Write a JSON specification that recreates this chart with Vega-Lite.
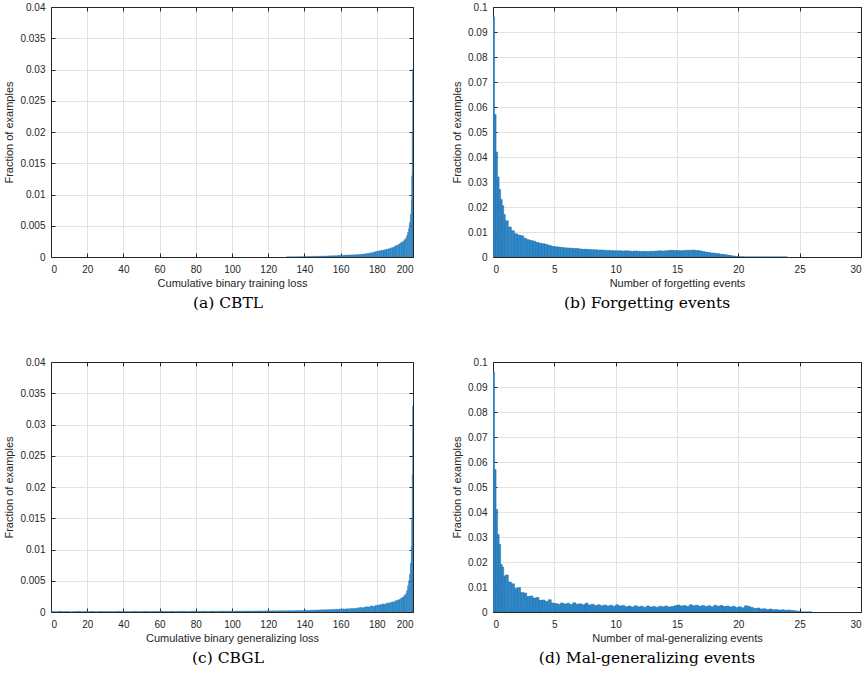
{
  "$schema": "https://vega.github.io/schema/vega-lite/v6.json",
  "padding": {"left": 3, "top": 2, "right": 2, "bottom": 2},
  "bounds": "flush",
  "columns": 2,
  "spacing": {"row": 105, "column": 80},
  "config": {
    "view": {"stroke": null},
    "font": "Liberation Sans",
    "axis": {
      "domainColor": "#262626", "domainWidth": 1,
      "tickColor": "#262626", "tickWidth": 1,
      "labelColor": "#262626", "labelFont": "Liberation Sans", "labelFontSize": 10,
      "titleFont": "Liberation Sans", "titleFontSize": 11, "titleFontWeight": "normal", "titleColor": "#262626",
      "gridColor": "#e2e2e2", "gridWidth": 1
    },
    "title": {"font": "DejaVu Serif", "fontSize": 15.5, "fontWeight": "normal", "color": "#000000"}
  },
  "datasets": {
    "a": [
      {"x0":130,"x1":131,"y":0.00003},{"x0":131,"x1":132,"y":0.00003},{"x0":132,"x1":133,"y":0.00004},{"x0":133,"x1":134,"y":0.00003},{"x0":134,"x1":135,"y":0.00004},
      {"x0":135,"x1":136,"y":0.00004},{"x0":136,"x1":137,"y":0.00005},{"x0":137,"x1":138,"y":0.00005},{"x0":138,"x1":139,"y":0.00006},{"x0":139,"x1":140,"y":0.00006},
      {"x0":140,"x1":141,"y":0.00007},{"x0":141,"x1":142,"y":0.00008},{"x0":142,"x1":143,"y":0.00008},{"x0":143,"x1":144,"y":0.00009},{"x0":144,"x1":145,"y":0.0001},
      {"x0":145,"x1":146,"y":0.0001},{"x0":146,"x1":147,"y":0.00011},{"x0":147,"x1":148,"y":0.00012},{"x0":148,"x1":149,"y":0.00013},{"x0":149,"x1":150,"y":0.00014},
      {"x0":150,"x1":151,"y":0.00015},{"x0":151,"x1":152,"y":0.00016},{"x0":152,"x1":153,"y":0.00017},{"x0":153,"x1":154,"y":0.00018},{"x0":154,"x1":155,"y":0.00019},
      {"x0":155,"x1":156,"y":0.0002},{"x0":156,"x1":157,"y":0.00021},{"x0":157,"x1":158,"y":0.00022},{"x0":158,"x1":159,"y":0.00024},{"x0":159,"x1":160,"y":0.00025},
      {"x0":160,"x1":161,"y":0.00027},{"x0":161,"x1":162,"y":0.00028},{"x0":162,"x1":163,"y":0.0003},{"x0":163,"x1":164,"y":0.00031},{"x0":164,"x1":165,"y":0.00032},
      {"x0":165,"x1":166,"y":0.00034},{"x0":166,"x1":167,"y":0.00035},{"x0":167,"x1":168,"y":0.00037},{"x0":168,"x1":169,"y":0.00038},{"x0":169,"x1":170,"y":0.0004},
      {"x0":170,"x1":171,"y":0.00042},{"x0":171,"x1":172,"y":0.00045},{"x0":172,"x1":173,"y":0.00048},{"x0":173,"x1":174,"y":0.0005},{"x0":174,"x1":175,"y":0.00055},
      {"x0":175,"x1":176,"y":0.0006},{"x0":176,"x1":177,"y":0.00065},{"x0":177,"x1":178,"y":0.0007},{"x0":178,"x1":179,"y":0.00078},{"x0":179,"x1":180,"y":0.00085},
      {"x0":180,"x1":181,"y":0.00095},{"x0":181,"x1":182,"y":0.001},{"x0":182,"x1":183,"y":0.00105},{"x0":183,"x1":184,"y":0.0011},{"x0":184,"x1":185,"y":0.00118},
      {"x0":185,"x1":186,"y":0.00125},{"x0":186,"x1":187,"y":0.0013},{"x0":187,"x1":188,"y":0.0014},{"x0":188,"x1":189,"y":0.0015},{"x0":189,"x1":190,"y":0.0016},
      {"x0":190,"x1":191,"y":0.0018},{"x0":191,"x1":192,"y":0.0019},{"x0":192,"x1":193,"y":0.0021},{"x0":193,"x1":194,"y":0.0023},{"x0":194,"x1":195,"y":0.0025},
      {"x0":195,"x1":196,"y":0.0028},
      {"x0":196,"x1":196.5,"y":0.0031},{"x0":196.5,"x1":197,"y":0.0035},{"x0":197,"x1":197.5,"y":0.004},{"x0":197.5,"x1":198,"y":0.0046},
      {"x0":198,"x1":198.5,"y":0.0055},{"x0":198.5,"x1":199,"y":0.0068},
      {"x0":199,"x1":199.25,"y":0.009},{"x0":199.25,"x1":199.5,"y":0.013},{"x0":199.5,"x1":199.75,"y":0.02},{"x0":199.75,"x1":200,"y":0.03}
    ],
    "b": [
      {"x0":0,"x1":0.125,"y":0.096},{"x0":0.125,"x1":0.25,"y":0.057},{"x0":0.25,"x1":0.375,"y":0.042},{"x0":0.375,"x1":0.5,"y":0.032},
      {"x0":0.5,"x1":0.625,"y":0.027},{"x0":0.625,"x1":0.75,"y":0.023},{"x0":0.75,"x1":0.875,"y":0.0205},{"x0":0.875,"x1":1,"y":0.017},
      {"x0":1,"x1":1.25,"y":0.0145},{"x0":1.25,"x1":1.5,"y":0.012},{"x0":1.5,"x1":1.75,"y":0.0105},{"x0":1.75,"x1":2,"y":0.0093},
      {"x0":2,"x1":2.25,"y":0.0088},{"x0":2.25,"x1":2.5,"y":0.0085},{"x0":2.5,"x1":2.75,"y":0.0075},{"x0":2.75,"x1":3,"y":0.0069},
      {"x0":3,"x1":3.25,"y":0.0066},{"x0":3.25,"x1":3.5,"y":0.0063},{"x0":3.5,"x1":3.75,"y":0.0058},{"x0":3.75,"x1":4,"y":0.0055},
      {"x0":4,"x1":4.25,"y":0.0053},{"x0":4.25,"x1":4.5,"y":0.005},{"x0":4.5,"x1":4.75,"y":0.0046},{"x0":4.75,"x1":5,"y":0.0043},
      {"x0":5,"x1":5.25,"y":0.0041},{"x0":5.25,"x1":5.5,"y":0.004},{"x0":5.5,"x1":5.75,"y":0.0038},{"x0":5.75,"x1":6,"y":0.0037},
      {"x0":6,"x1":6.25,"y":0.0036},{"x0":6.25,"x1":6.5,"y":0.0035},{"x0":6.5,"x1":6.75,"y":0.0034},{"x0":6.75,"x1":7,"y":0.0034},
      {"x0":7,"x1":7.25,"y":0.0032},{"x0":7.25,"x1":7.5,"y":0.0031},{"x0":7.5,"x1":7.75,"y":0.0031},{"x0":7.75,"x1":8,"y":0.003},
      {"x0":8,"x1":8.25,"y":0.0029},{"x0":8.25,"x1":8.5,"y":0.0029},{"x0":8.5,"x1":8.75,"y":0.0028},{"x0":8.75,"x1":9,"y":0.0028},
      {"x0":9,"x1":9.25,"y":0.0027},{"x0":9.25,"x1":9.5,"y":0.0026},{"x0":9.5,"x1":9.75,"y":0.0026},{"x0":9.75,"x1":10,"y":0.0025},
      {"x0":10,"x1":10.25,"y":0.0025},{"x0":10.25,"x1":10.5,"y":0.0025},{"x0":10.5,"x1":10.75,"y":0.0024},{"x0":10.75,"x1":11,"y":0.0025},
      {"x0":11,"x1":11.25,"y":0.0024},{"x0":11.25,"x1":11.5,"y":0.0023},{"x0":11.5,"x1":11.75,"y":0.0024},{"x0":11.75,"x1":12,"y":0.0023},
      {"x0":12,"x1":12.25,"y":0.0022},{"x0":12.25,"x1":12.5,"y":0.0023},{"x0":12.5,"x1":12.75,"y":0.0022},{"x0":12.75,"x1":13,"y":0.0023},
      {"x0":13,"x1":13.25,"y":0.0023},{"x0":13.25,"x1":13.5,"y":0.0024},{"x0":13.5,"x1":13.75,"y":0.0025},{"x0":13.75,"x1":14,"y":0.0024},
      {"x0":14,"x1":14.25,"y":0.0025},{"x0":14.25,"x1":14.5,"y":0.0026},{"x0":14.5,"x1":14.75,"y":0.0027},{"x0":14.75,"x1":15,"y":0.0026},
      {"x0":15,"x1":15.25,"y":0.0026},{"x0":15.25,"x1":15.5,"y":0.0025},{"x0":15.5,"x1":15.75,"y":0.0026},{"x0":15.75,"x1":16,"y":0.0027},
      {"x0":16,"x1":16.25,"y":0.0027},{"x0":16.25,"x1":16.5,"y":0.0028},{"x0":16.5,"x1":16.75,"y":0.0026},{"x0":16.75,"x1":17,"y":0.0025},
      {"x0":17,"x1":17.25,"y":0.0022},{"x0":17.25,"x1":17.5,"y":0.002},{"x0":17.5,"x1":17.75,"y":0.0018},{"x0":17.75,"x1":18,"y":0.0016},
      {"x0":18,"x1":18.25,"y":0.0015},{"x0":18.25,"x1":18.5,"y":0.0013},{"x0":18.5,"x1":18.75,"y":0.0011},{"x0":18.75,"x1":19,"y":0.001},
      {"x0":19,"x1":19.25,"y":0.0008},{"x0":19.25,"x1":19.5,"y":0.0006},{"x0":19.5,"x1":19.75,"y":0.0004},{"x0":19.75,"x1":20,"y":0.0002},
      {"x0":20,"x1":20.5,"y":0.0001},{"x0":20.5,"x1":21,"y":0.00005},{"x0":21,"x1":22,"y":0.00003},{"x0":22,"x1":24,"y":0.00002}
    ],
    "c": [
      {"x0":0,"x1":2,"y":0.0001},{"x0":2,"x1":4,"y":0.00006},{"x0":4,"x1":6,"y":0.00012},{"x0":6,"x1":8,"y":0.00008},{"x0":8,"x1":10,"y":0.0001},
      {"x0":10,"x1":12,"y":0.00005},{"x0":12,"x1":14,"y":0.00009},{"x0":14,"x1":16,"y":0.00012},{"x0":16,"x1":18,"y":0.00007},{"x0":18,"x1":20,"y":0.0001},
      {"x0":20,"x1":22,"y":0.00008},{"x0":22,"x1":24,"y":0.00011},{"x0":24,"x1":26,"y":0.00006},{"x0":26,"x1":28,"y":0.0001},{"x0":28,"x1":30,"y":0.00009},
      {"x0":30,"x1":32,"y":0.00007},{"x0":32,"x1":34,"y":0.0001},{"x0":34,"x1":36,"y":0.00008},{"x0":36,"x1":38,"y":0.00012},{"x0":38,"x1":40,"y":0.00009},
      {"x0":40,"x1":42,"y":0.0001},{"x0":42,"x1":44,"y":0.00007},{"x0":44,"x1":46,"y":0.0001},{"x0":46,"x1":48,"y":0.00011},{"x0":48,"x1":50,"y":0.00008},
      {"x0":50,"x1":52,"y":0.0001},{"x0":52,"x1":54,"y":0.00012},{"x0":54,"x1":56,"y":0.00009},{"x0":56,"x1":58,"y":0.00011},{"x0":58,"x1":60,"y":0.0001},
      {"x0":60,"x1":62,"y":0.00013},{"x0":62,"x1":64,"y":0.0001},{"x0":64,"x1":66,"y":0.00009},{"x0":66,"x1":68,"y":0.00012},{"x0":68,"x1":70,"y":0.0001},
      {"x0":70,"x1":72,"y":0.00011},{"x0":72,"x1":74,"y":0.00013},{"x0":74,"x1":76,"y":0.0001},{"x0":76,"x1":78,"y":0.00012},{"x0":78,"x1":80,"y":0.00014},
      {"x0":80,"x1":82,"y":0.00011},{"x0":82,"x1":84,"y":0.00012},{"x0":84,"x1":86,"y":0.00013},{"x0":86,"x1":88,"y":0.0001},{"x0":88,"x1":90,"y":0.00014},
      {"x0":90,"x1":92,"y":0.00012},{"x0":92,"x1":94,"y":0.00013},{"x0":94,"x1":96,"y":0.00015},{"x0":96,"x1":98,"y":0.00012},{"x0":98,"x1":100,"y":0.00014},
      {"x0":100,"x1":102,"y":0.00013},{"x0":102,"x1":104,"y":0.00016},{"x0":104,"x1":106,"y":0.00014},{"x0":106,"x1":108,"y":0.00015},{"x0":108,"x1":110,"y":0.00017},
      {"x0":110,"x1":112,"y":0.00015},{"x0":112,"x1":114,"y":0.00016},{"x0":114,"x1":116,"y":0.00018},{"x0":116,"x1":118,"y":0.00016},{"x0":118,"x1":120,"y":0.00019},
      {"x0":120,"x1":122,"y":0.00018},{"x0":122,"x1":124,"y":0.0002},{"x0":124,"x1":126,"y":0.00019},{"x0":126,"x1":128,"y":0.00021},{"x0":128,"x1":130,"y":0.0002},
      {"x0":130,"x1":132,"y":0.00022},{"x0":132,"x1":134,"y":0.00021},{"x0":134,"x1":136,"y":0.00023},{"x0":136,"x1":138,"y":0.00024},{"x0":138,"x1":140,"y":0.00025},
      {"x0":140,"x1":141,"y":0.00026},{"x0":141,"x1":142,"y":0.00028},{"x0":142,"x1":143,"y":0.00025},{"x0":143,"x1":144,"y":0.0003},{"x0":144,"x1":145,"y":0.00029},
      {"x0":145,"x1":146,"y":0.00032},{"x0":146,"x1":147,"y":0.0003},{"x0":147,"x1":148,"y":0.00034},{"x0":148,"x1":149,"y":0.00033},{"x0":149,"x1":150,"y":0.00036},
      {"x0":150,"x1":151,"y":0.00035},{"x0":151,"x1":152,"y":0.00038},{"x0":152,"x1":153,"y":0.00036},{"x0":153,"x1":154,"y":0.0004},{"x0":154,"x1":155,"y":0.00039},
      {"x0":155,"x1":156,"y":0.00042},{"x0":156,"x1":157,"y":0.0004},{"x0":157,"x1":158,"y":0.00045},{"x0":158,"x1":159,"y":0.00043},{"x0":159,"x1":160,"y":0.00047},
      {"x0":160,"x1":161,"y":0.00046},{"x0":161,"x1":162,"y":0.0005},{"x0":162,"x1":163,"y":0.00048},{"x0":163,"x1":164,"y":0.00053},{"x0":164,"x1":165,"y":0.00051},
      {"x0":165,"x1":166,"y":0.00056},{"x0":166,"x1":167,"y":0.00055},{"x0":167,"x1":168,"y":0.0006},{"x0":168,"x1":169,"y":0.00058},{"x0":169,"x1":170,"y":0.00066},
      {"x0":170,"x1":171,"y":0.0007},{"x0":171,"x1":172,"y":0.00075},{"x0":172,"x1":173,"y":0.00068},{"x0":173,"x1":174,"y":0.0008},{"x0":174,"x1":175,"y":0.00085},
      {"x0":175,"x1":176,"y":0.0008},{"x0":176,"x1":177,"y":0.00092},{"x0":177,"x1":178,"y":0.00098},{"x0":178,"x1":179,"y":0.0009},{"x0":179,"x1":180,"y":0.00105},
      {"x0":180,"x1":181,"y":0.0011},{"x0":181,"x1":182,"y":0.00115},{"x0":182,"x1":183,"y":0.0012},{"x0":183,"x1":184,"y":0.0013},{"x0":184,"x1":185,"y":0.00125},
      {"x0":185,"x1":186,"y":0.0014},{"x0":186,"x1":187,"y":0.00145},{"x0":187,"x1":188,"y":0.0015},{"x0":188,"x1":189,"y":0.0016},{"x0":189,"x1":190,"y":0.00165},
      {"x0":190,"x1":191,"y":0.0018},{"x0":191,"x1":192,"y":0.0019},{"x0":192,"x1":193,"y":0.002},{"x0":193,"x1":194,"y":0.0022},{"x0":194,"x1":195,"y":0.0024},
      {"x0":195,"x1":196,"y":0.0027},
      {"x0":196,"x1":196.5,"y":0.003},{"x0":196.5,"x1":197,"y":0.0035},{"x0":197,"x1":197.5,"y":0.0042},{"x0":197.5,"x1":198,"y":0.005},
      {"x0":198,"x1":198.5,"y":0.006},{"x0":198.5,"x1":199,"y":0.0078},
      {"x0":199,"x1":199.25,"y":0.0105},{"x0":199.25,"x1":199.5,"y":0.015},{"x0":199.5,"x1":199.75,"y":0.022},{"x0":199.75,"x1":200,"y":0.033}
    ],
    "d": [
      {"x0":0,"x1":0.125,"y":0.096},{"x0":0.125,"x1":0.25,"y":0.057},{"x0":0.25,"x1":0.375,"y":0.041},{"x0":0.375,"x1":0.5,"y":0.031},
      {"x0":0.5,"x1":0.625,"y":0.027},{"x0":0.625,"x1":0.75,"y":0.019},{"x0":0.75,"x1":0.875,"y":0.018},{"x0":0.875,"x1":1,"y":0.0143},
      {"x0":1,"x1":1.25,"y":0.0148},{"x0":1.25,"x1":1.5,"y":0.012},{"x0":1.5,"x1":1.75,"y":0.0113},{"x0":1.75,"x1":2,"y":0.0095},
      {"x0":2,"x1":2.25,"y":0.0098},{"x0":2.25,"x1":2.5,"y":0.0078},{"x0":2.5,"x1":2.75,"y":0.0076},{"x0":2.75,"x1":3,"y":0.0062},
      {"x0":3,"x1":3.25,"y":0.0064},{"x0":3.25,"x1":3.5,"y":0.0056},{"x0":3.5,"x1":3.75,"y":0.0058},{"x0":3.75,"x1":4,"y":0.0047},
      {"x0":4,"x1":4.25,"y":0.0048},{"x0":4.25,"x1":4.5,"y":0.0042},{"x0":4.5,"x1":4.75,"y":0.0049},{"x0":4.75,"x1":5,"y":0.0036},
      {"x0":5,"x1":5.25,"y":0.0034},{"x0":5.25,"x1":5.5,"y":0.0031},{"x0":5.5,"x1":5.75,"y":0.0036},{"x0":5.75,"x1":6,"y":0.0032},
      {"x0":6,"x1":6.25,"y":0.0035},{"x0":6.25,"x1":6.5,"y":0.003},{"x0":6.5,"x1":6.75,"y":0.0037},{"x0":6.75,"x1":7,"y":0.0031},
      {"x0":7,"x1":7.25,"y":0.0033},{"x0":7.25,"x1":7.5,"y":0.0029},{"x0":7.5,"x1":7.75,"y":0.0035},{"x0":7.75,"x1":8,"y":0.0028},
      {"x0":8,"x1":8.25,"y":0.0031},{"x0":8.25,"x1":8.5,"y":0.0026},{"x0":8.5,"x1":8.75,"y":0.0029},{"x0":8.75,"x1":9,"y":0.0025},
      {"x0":9,"x1":9.25,"y":0.0028},{"x0":9.25,"x1":9.5,"y":0.0024},{"x0":9.5,"x1":9.75,"y":0.0027},{"x0":9.75,"x1":10,"y":0.0023},
      {"x0":10,"x1":10.25,"y":0.0029},{"x0":10.25,"x1":10.5,"y":0.0024},{"x0":10.5,"x1":10.75,"y":0.0026},{"x0":10.75,"x1":11,"y":0.0021},
      {"x0":11,"x1":11.25,"y":0.0024},{"x0":11.25,"x1":11.5,"y":0.002},{"x0":11.5,"x1":11.75,"y":0.0025},{"x0":11.75,"x1":12,"y":0.0021},
      {"x0":12,"x1":12.25,"y":0.0023},{"x0":12.25,"x1":12.5,"y":0.0019},{"x0":12.5,"x1":12.75,"y":0.0024},{"x0":12.75,"x1":13,"y":0.002},
      {"x0":13,"x1":13.25,"y":0.0022},{"x0":13.25,"x1":13.5,"y":0.0019},{"x0":13.5,"x1":13.75,"y":0.0023},{"x0":13.75,"x1":14,"y":0.0021},
      {"x0":14,"x1":14.25,"y":0.0024},{"x0":14.25,"x1":14.5,"y":0.002},{"x0":14.5,"x1":14.75,"y":0.0022},{"x0":14.75,"x1":15,"y":0.0025},
      {"x0":15,"x1":15.25,"y":0.0028},{"x0":15.25,"x1":15.5,"y":0.0024},{"x0":15.5,"x1":15.75,"y":0.0026},{"x0":15.75,"x1":16,"y":0.0022},
      {"x0":16,"x1":16.25,"y":0.0029},{"x0":16.25,"x1":16.5,"y":0.0025},{"x0":16.5,"x1":16.75,"y":0.0027},{"x0":16.75,"x1":17,"y":0.0023},
      {"x0":17,"x1":17.25,"y":0.0026},{"x0":17.25,"x1":17.5,"y":0.0022},{"x0":17.5,"x1":17.75,"y":0.0025},{"x0":17.75,"x1":18,"y":0.0021},
      {"x0":18,"x1":18.25,"y":0.0027},{"x0":18.25,"x1":18.5,"y":0.0023},{"x0":18.5,"x1":18.75,"y":0.0026},{"x0":18.75,"x1":19,"y":0.0022},
      {"x0":19,"x1":19.25,"y":0.0024},{"x0":19.25,"x1":19.5,"y":0.002},{"x0":19.5,"x1":19.75,"y":0.0023},{"x0":19.75,"x1":20,"y":0.0018},
      {"x0":20,"x1":20.25,"y":0.0021},{"x0":20.25,"x1":20.5,"y":0.0017},{"x0":20.5,"x1":20.75,"y":0.0025},{"x0":20.75,"x1":21,"y":0.0022},
      {"x0":21,"x1":21.25,"y":0.0018},{"x0":21.25,"x1":21.5,"y":0.0014},{"x0":21.5,"x1":21.75,"y":0.0016},{"x0":21.75,"x1":22,"y":0.0012},
      {"x0":22,"x1":22.25,"y":0.0013},{"x0":22.25,"x1":22.5,"y":0.001},{"x0":22.5,"x1":22.75,"y":0.0012},{"x0":22.75,"x1":23,"y":0.0009},
      {"x0":23,"x1":23.25,"y":0.001},{"x0":23.25,"x1":23.5,"y":0.0008},{"x0":23.5,"x1":23.75,"y":0.0009},{"x0":23.75,"x1":24,"y":0.0007},
      {"x0":24,"x1":24.25,"y":0.0008},{"x0":24.25,"x1":24.5,"y":0.0006},{"x0":24.5,"x1":24.75,"y":0.0005},{"x0":24.75,"x1":25,"y":0.0003},
      {"x0":25,"x1":26,"y":0.00003}
    ]
  },
  "concat": [
    {
      "width": 362, "height": 250,
      "data": {"name": "a"},
      "title": {"text": "(a) CBTL", "orient": "bottom", "anchor": "middle", "frame": "group", "dx": -4, "offset": 8},
      "layer": [
        {
          "mark": {"type": "rect", "fill": "#2e89cb", "stroke": "#2373b0", "strokeWidth": 0.3, "clip": true},
          "encoding": {
            "x": {"field": "x0", "type": "quantitative", "scale": {"domain": [0, 200], "nice": false, "zero": false},
                  "axis": {"orient": "bottom", "values": [0,20,40,60,80,100,120,140,160,180,200], "format": "d", "title": "Cumulative binary training loss", "grid": true, "tickSize": -4, "labelPadding": 11, "titlePadding": 3}},
            "x2": {"field": "x1"},
            "y": {"field": "y", "type": "quantitative", "scale": {"domain": [0, 0.04], "nice": false},
                  "axis": {"orient": "left", "values": [0,0.005,0.01,0.015,0.02,0.025,0.03,0.035,0.04], "format": "~g", "title": "Fraction of examples", "grid": true, "tickSize": -4, "labelPadding": 10, "titlePadding": 5}},
            "y2": {"datum": 0}
          }
        },
        {
          "mark": {"type": "rect", "opacity": 0},
          "encoding": {
            "x": {"field": "x0", "type": "quantitative", "axis": {"orient": "top", "values": [0,20,40,60,80,100,120,140,160,180,200], "labels": false, "grid": false, "title": null, "tickSize": -4}},
            "x2": {"field": "x1"},
            "y": {"field": "y", "type": "quantitative", "axis": {"orient": "right", "values": [0,0.005,0.01,0.015,0.02,0.025,0.03,0.035,0.04], "labels": false, "grid": false, "title": null, "tickSize": -4}},
            "y2": {"datum": 0}
          }
        }
      ],
      "resolve": {"axis": {"x": "independent", "y": "independent"}}
    },
    {
      "width": 368, "height": 250,
      "data": {"name": "b"},
      "title": {"text": "(b) Forgetting events", "orient": "bottom", "anchor": "middle", "frame": "group", "dx": -30, "offset": 8},
      "layer": [
        {
          "mark": {"type": "rect", "fill": "#2e89cb", "stroke": "#1c6aa6", "strokeWidth": 0.5, "clip": true},
          "encoding": {
            "x": {"field": "x0", "type": "quantitative", "scale": {"domain": [0, 30], "nice": false, "zero": false},
                  "axis": {"orient": "bottom", "values": [0,5,10,15,20,25,30], "format": "d", "title": "Number of forgetting events", "grid": true, "tickSize": -4, "labelPadding": 11, "titlePadding": 3}},
            "x2": {"field": "x1"},
            "y": {"field": "y", "type": "quantitative", "scale": {"domain": [0, 0.1], "nice": false},
                  "axis": {"orient": "left", "values": [0,0.01,0.02,0.03,0.04,0.05,0.06,0.07,0.08,0.09,0.1], "format": "~g", "title": "Fraction of examples", "grid": true, "tickSize": -4, "labelPadding": 10, "titlePadding": 5}},
            "y2": {"datum": 0}
          }
        },
        {
          "mark": {"type": "rect", "opacity": 0},
          "encoding": {
            "x": {"field": "x0", "type": "quantitative", "axis": {"orient": "top", "values": [0,5,10,15,20,25,30], "labels": false, "grid": false, "title": null, "tickSize": -4}},
            "x2": {"field": "x1"},
            "y": {"field": "y", "type": "quantitative", "axis": {"orient": "right", "values": [0,0.01,0.02,0.03,0.04,0.05,0.06,0.07,0.08,0.09,0.1], "labels": false, "grid": false, "title": null, "tickSize": -4}},
            "y2": {"datum": 0}
          }
        }
      ],
      "resolve": {"axis": {"x": "independent", "y": "independent"}}
    },
    {
      "width": 362, "height": 250,
      "data": {"name": "c"},
      "title": {"text": "(c) CBGL", "orient": "bottom", "anchor": "middle", "frame": "group", "dx": -4, "offset": 8},
      "layer": [
        {
          "mark": {"type": "rect", "fill": "#2e89cb", "stroke": "#2373b0", "strokeWidth": 0.3, "clip": true},
          "encoding": {
            "x": {"field": "x0", "type": "quantitative", "scale": {"domain": [0, 200], "nice": false, "zero": false},
                  "axis": {"orient": "bottom", "values": [0,20,40,60,80,100,120,140,160,180,200], "format": "d", "title": "Cumulative binary generalizing loss", "grid": true, "tickSize": -4, "labelPadding": 11, "titlePadding": 3}},
            "x2": {"field": "x1"},
            "y": {"field": "y", "type": "quantitative", "scale": {"domain": [0, 0.04], "nice": false},
                  "axis": {"orient": "left", "values": [0,0.005,0.01,0.015,0.02,0.025,0.03,0.035,0.04], "format": "~g", "title": "Fraction of examples", "grid": true, "tickSize": -4, "labelPadding": 10, "titlePadding": 5}},
            "y2": {"datum": 0}
          }
        },
        {
          "mark": {"type": "rect", "opacity": 0},
          "encoding": {
            "x": {"field": "x0", "type": "quantitative", "axis": {"orient": "top", "values": [0,20,40,60,80,100,120,140,160,180,200], "labels": false, "grid": false, "title": null, "tickSize": -4}},
            "x2": {"field": "x1"},
            "y": {"field": "y", "type": "quantitative", "axis": {"orient": "right", "values": [0,0.005,0.01,0.015,0.02,0.025,0.03,0.035,0.04], "labels": false, "grid": false, "title": null, "tickSize": -4}},
            "y2": {"datum": 0}
          }
        }
      ],
      "resolve": {"axis": {"x": "independent", "y": "independent"}}
    },
    {
      "width": 368, "height": 250,
      "data": {"name": "d"},
      "title": {"text": "(d) Mal-generalizing events", "orient": "bottom", "anchor": "middle", "frame": "group", "dx": -30, "offset": 8},
      "layer": [
        {
          "mark": {"type": "rect", "fill": "#2e89cb", "stroke": "#1c6aa6", "strokeWidth": 0.5, "clip": true},
          "encoding": {
            "x": {"field": "x0", "type": "quantitative", "scale": {"domain": [0, 30], "nice": false, "zero": false},
                  "axis": {"orient": "bottom", "values": [0,5,10,15,20,25,30], "format": "d", "title": "Number of mal-generalizing events", "grid": true, "tickSize": -4, "labelPadding": 11, "titlePadding": 3}},
            "x2": {"field": "x1"},
            "y": {"field": "y", "type": "quantitative", "scale": {"domain": [0, 0.1], "nice": false},
                  "axis": {"orient": "left", "values": [0,0.01,0.02,0.03,0.04,0.05,0.06,0.07,0.08,0.09,0.1], "format": "~g", "title": "Fraction of examples", "grid": true, "tickSize": -4, "labelPadding": 10, "titlePadding": 5}},
            "y2": {"datum": 0}
          }
        },
        {
          "mark": {"type": "rect", "opacity": 0},
          "encoding": {
            "x": {"field": "x0", "type": "quantitative", "axis": {"orient": "top", "values": [0,5,10,15,20,25,30], "labels": false, "grid": false, "title": null, "tickSize": -4}},
            "x2": {"field": "x1"},
            "y": {"field": "y", "type": "quantitative", "axis": {"orient": "right", "values": [0,0.01,0.02,0.03,0.04,0.05,0.06,0.07,0.08,0.09,0.1], "labels": false, "grid": false, "title": null, "tickSize": -4}},
            "y2": {"datum": 0}
          }
        }
      ],
      "resolve": {"axis": {"x": "independent", "y": "independent"}}
    }
  ]
}
